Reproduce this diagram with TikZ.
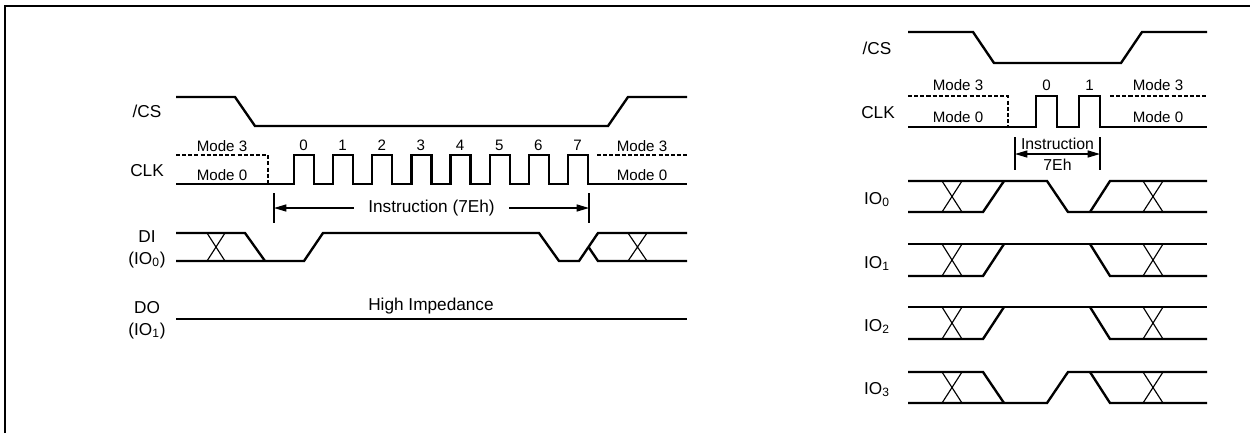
\documentclass[tikz,border=0pt]{standalone}
\usepackage{fontspec}
\setmainfont{Liberation Sans}
\usetikzlibrary{arrows.meta}

\begin{document}
\begin{tikzpicture}[
  x=0.2mm, y=-0.2mm,
  >={Triangle[length=7pt,width=4pt]},
  sig/.style={line width=1.35pt},
  xg/.style={line width=0.65pt},
  md/.style={line width=1.35pt, dash pattern=on 2.3pt off 1.2pt},
  lb/.style={font=\fontsize{9.8}{12.5}\selectfont, inner sep=0pt, anchor=base},
  ml/.style={font=\fontsize{9.8}{12.5}\selectfont, inner sep=0pt, align=center},
  sm/.style={font=\fontsize{8.6}{10}\selectfont, inner sep=0pt, anchor=base}]

  \useasboundingbox (0,0) rectangle (1250,433);
  \draw[line width=1.1pt] (5,433) -- (5,6) -- (1250,6);

  % standard read sequence
  \node[lb] (csA) at (147,117) {/CS};
  \draw[sig] (176,97) -- (235,97) -- (255,126) -- (608,126) -- (628,97) -- (687,97);

  \node[lb] (clkA) at (147,176) {CLK};
  \draw[md] (176,155) -- (268,155) -- (268,184);
  \draw[md] (597,155) -- (687,155);
  \draw[sig] (176,184) -- (294,184)
    \foreach \k in {0,...,7} { -- ++(0,-29) -- ++(20,0) -- ++(0,29) -- ++(19.14,0) }
    -- (687,184);
  \foreach \k in {0,...,7}
    \node[sm] (bitA\k) at (303.5+39.14*\k,150) {\k};
  \node[sm] (m3A) at (222,151) {Mode 3};
  \node[sm] (m0A) at (222,180) {Mode 0};
  \node[sm] (m3B) at (642,151) {Mode 3};
  \node[sm] (m0B) at (642,180) {Mode 0};

  \coordinate (insL) at (274,208);
  \coordinate (insR) at (589,208);
  \draw[xg] (274,193) -- (274,223) (589,193) -- (589,223);
  \draw[xg, <->] (insL) -- (insR)
    node[midway, fill=white, font=\fontsize{9.8}{12}\selectfont, inner xsep=8pt, inner ysep=1pt]
    (insA) {Instruction (7Eh)};

  \node[ml] (diA) at (147,249) {DI\\(IO\textsubscript{0})};
  \draw[sig] (176,233) -- (245,233) -- (265,261);
  \draw[sig] (176,261) -- (304,261) -- (323,233) -- (539,233) -- (559,261) -- (579,261)
    -- (598,233) -- (687,233);
  \draw[sig] (588.5,247) -- (598,261) -- (687,261);
  \draw[xg] (207,233) -- (225,261) (207,261) -- (225,233);
  \draw[xg] (628,233) -- (647,261) (628,261) -- (647,233);

  \node[ml] (doA) at (147,320) {DO\\(IO\textsubscript{1})};
  \draw[sig] (176,319) -- (687,319);
  \node[lb] (hiz) at (431,310) {High Impedance};

  % quad read sequence
  \node[lb] (csB) at (877,54) {/CS};
  \draw[sig] (908,32) -- (973,32) -- (994,63) -- (1121,63) -- (1142,32) -- (1207,32);

  \node[lb] (clkB) at (878,118) {CLK};
  \draw[md] (908,96) -- (1008,96) -- (1008,127);
  \draw[md] (1110,96) -- (1207,96);
  \draw[sig] (908,127) -- (1036,127) -- (1036,96) -- (1057,96) -- (1057,127) -- (1079,127)
    -- (1079,96) -- (1100,96) -- (1100,127) -- (1207,127);
  \node[sm] (bitB0) at (1046.5,90) {0};
  \node[sm] (bitB1) at (1089.5,90) {1};
  \node[sm] (m3C) at (958,90) {Mode 3};
  \node[sm] (m0C) at (958,122) {Mode 0};
  \node[sm] (m3D) at (1158,90) {Mode 3};
  \node[sm] (m0D) at (1158,122) {Mode 0};

  \coordinate (insC) at (1015,154);
  \coordinate (insD) at (1100,154);
  \draw[xg] (1015,137) -- (1015,170) (1100,137) -- (1100,170);
  \draw[xg, <->] (insC) -- (insD);
  \node[sm, font=\fontsize{9}{10}\selectfont] (insB) at (1057.5,149) {Instruction};
  \node[sm, font=\fontsize{9}{10}\selectfont] (ehB) at (1057.5,170) {7Eh};

  \node[lb] (io0) at (877,204) {IO\textsubscript{0}};
  \draw[sig] (908,181) -- (1047,181) -- (1068,212) -- (1207,212);
  \draw[sig] (908,212) -- (983,212) -- (1004,181);
  \draw[sig] (1090,212) -- (1110,181) -- (1207,181);

  \node[lb] (io1) at (877,268) {IO\textsubscript{1}};
  \draw[sig] (908,244) -- (1207,244);
  \draw[sig] (908,276) -- (983,276) -- (1004,244);
  \draw[sig] (1090,244) -- (1110,276) -- (1207,276);

  \node[lb] (io2) at (877,331) {IO\textsubscript{2}};
  \draw[sig] (908,307) -- (1207,307);
  \draw[sig] (908,339) -- (983,339) -- (1004,307);
  \draw[sig] (1090,307) -- (1110,339) -- (1207,339);

  \node[lb] (io3) at (877,394) {IO\textsubscript{3}};
  \draw[sig] (908,372) -- (983,372) -- (1004,403);
  \draw[sig] (908,403) -- (1047,403) -- (1068,372) -- (1207,372);
  \draw[sig] (1090,372) -- (1110,403) -- (1207,403);

  \foreach \r/\h in {181/31,244/32,307/32,372/31} {
    \draw[xg] (942,\r) -- (962,\r+\h) (942,\r+\h) -- (962,\r);
    \draw[xg] (1143,\r) -- (1163,\r+\h) (1143,\r+\h) -- (1163,\r);
  }
\end{tikzpicture}
\end{document}
